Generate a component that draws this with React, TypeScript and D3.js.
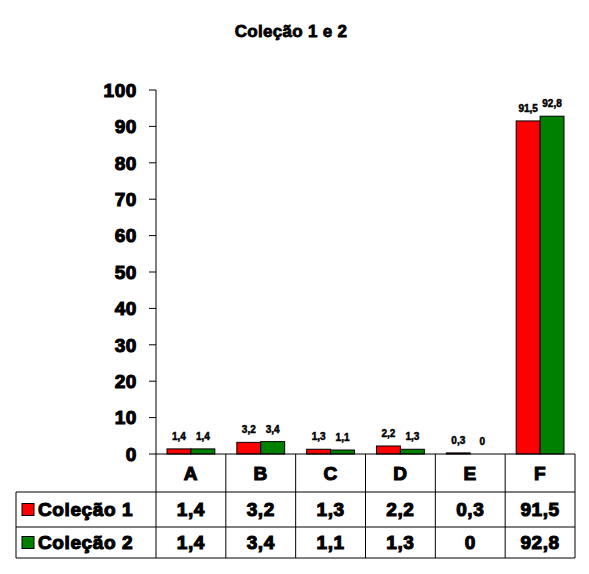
import React from "react";
import * as d3 from "d3";

const title = "Coleção 1 e 2";
const categories = ["A", "B", "C", "D", "E", "F"];
const seriesNames = ["Coleção 1", "Coleção 2"];
const colecao1 = [1.4, 3.2, 1.3, 2.2, 0.3, 91.5];
const colecao2 = [1.4, 3.4, 1.1, 1.3, 0, 92.8];
const yTicks = [0, 10, 20, 30, 40, 50, 60, 70, 80, 90, 100];
const seriesColors = ["#FF0000", "#008000"];

const W = 589;
const H = 574;
const FONT = "'Liberation Sans', Arial, sans-serif";

export default function App() {
  const seriesValues = [colecao1, colecao2];
  const x = d3.scaleBand<string>().domain(categories).range([156, 575]).padding(0);
  const inner = d3
    .scaleBand<string>()
    .domain(seriesNames)
    .range([0, x.bandwidth()])
    .paddingInner(0)
    .paddingOuter(0.46);
  const y = d3.scaleLinear().domain([0, 100]).range([454, 90]);
  const fmt = (v: number) => String(v).replace(".", ",");

  const tableLeft = 16;
  const tableRight = 575;
  const headerTop = y(0);
  const row1Top = 492;
  const row2Top = 527;
  const tableBottom = 558;
  const rowTops = [row1Top, row2Top];
  const rowBottoms = [row2Top, tableBottom];

  const heavy = { stroke: "#000", strokeWidth: 1.1, letterSpacing: 0.6 } as const;

  return (
    <svg
      width={W}
      height={H}
      style={{ position: "absolute", left: 0, top: 0, background: "#fff" }}
      fontFamily={FONT}
    >
      <rect x={0} y={0} width={W} height={H} fill="#fff" />
      {/* Title */}
      <text x={291} y={37} textAnchor="middle" fontSize={17} fontWeight="bold" stroke="#000" strokeWidth={0.8} letterSpacing={0.3}>
        {title}
      </text>

      {/* Y axis */}
      <line x1={156} x2={156} y1={y(100)} y2={y(0)} stroke="#000" strokeWidth={1} />
      {yTicks.map((t) => (
        <g key={t}>
          <line x1={149} x2={156} y1={y(t)} y2={y(t)} stroke="#000" strokeWidth={1} />
          <text
            x={137}
            y={y(t)}
            dy="0.36em"
            textAnchor="end"
            fontSize={19}
            fontWeight="bold"
            {...heavy}
          >
            {t}
          </text>
        </g>
      ))}

      {/* Bars */}
      {categories.map((c, i) => (
        <g key={c} transform={`translate(${x(c)},0)`}>
          {seriesNames.map((s, si) => {
            const v = seriesValues[si][i];
            const bx = inner(s) as number;
            const bw = inner.bandwidth();
            const top = y(v);
            return (
              <g key={s}>
                {v > 0 && (
                  <rect
                    x={bx}
                    y={top}
                    width={bw}
                    height={y(0) - top}
                    fill={seriesColors[si]}
                    stroke="#000"
                    strokeWidth={1}
                  />
                )}
                <text
                  x={bx + bw / 2}
                  y={top - 9}
                  textAnchor="middle"
                  fontSize={10}
                  fontWeight="bold"
                  stroke="#000"
                  strokeWidth={0.5}
                >
                  {fmt(v)}
                </text>
              </g>
            );
          })}
        </g>
      ))}

      {/* Baseline */}
      <line x1={156} x2={tableRight} y1={y(0)} y2={y(0)} stroke="#000" strokeWidth={1} />

      {/* Data table grid */}
      {[row1Top, row2Top, tableBottom].map((ry) => (
        <line key={ry} x1={tableLeft} x2={tableRight} y1={ry} y2={ry} stroke="#000" strokeWidth={1} />
      ))}
      <line x1={tableLeft} x2={tableLeft} y1={row1Top} y2={tableBottom} stroke="#000" strokeWidth={1} />
      {categories.map((c) => (
        <line
          key={"v" + c}
          x1={x(c) as number}
          x2={x(c) as number}
          y1={headerTop}
          y2={tableBottom}
          stroke="#000"
          strokeWidth={1}
        />
      ))}
      <line x1={tableRight} x2={tableRight} y1={headerTop} y2={tableBottom} stroke="#000" strokeWidth={1} />

      {/* Category header */}
      {categories.map((c) => (
        <text
          key={"h" + c}
          x={(x(c) as number) + x.bandwidth() / 2}
          y={480}
          textAnchor="middle"
          fontSize={19}
          fontWeight="bold"
          {...heavy}
        >
          {c}
        </text>
      ))}

      {/* Rows */}
      {seriesNames.map((s, si) => {
        const top = rowTops[si];
        const bottom = rowBottoms[si];
        const mid = (top + bottom) / 2;
        return (
          <g key={"row" + s}>
            <rect
              x={22}
              y={mid - 6}
              width={12}
              height={12}
              fill={seriesColors[si]}
              stroke="#000"
              strokeWidth={1}
            />
            <text x={38} y={mid} dy="0.36em" fontSize={19} fontWeight="bold" {...heavy}>
              {s}
            </text>
            {categories.map((c, i) => (
              <text
                key={c}
                x={(x(c) as number) + x.bandwidth() / 2}
                y={mid}
                dy="0.36em"
                textAnchor="middle"
                fontSize={19}
                fontWeight="bold"
                {...heavy}
              >
                {fmt(seriesValues[si][i])}
              </text>
            ))}
          </g>
        );
      })}
    </svg>
  );
}
